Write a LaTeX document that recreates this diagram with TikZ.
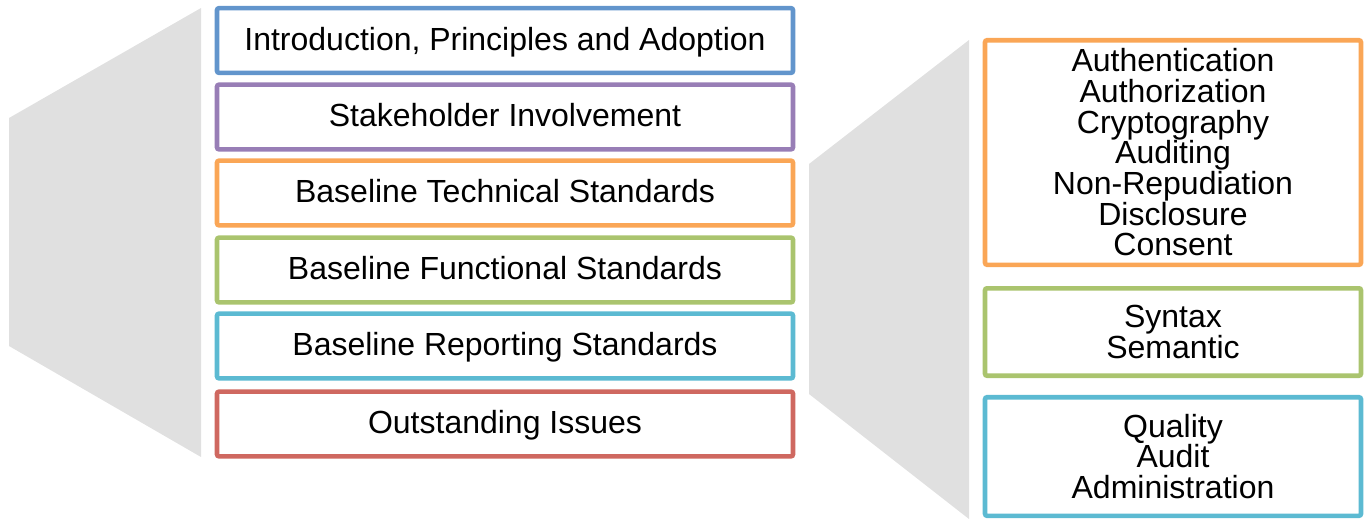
\documentclass[tikz,border=0pt]{standalone}
\usepackage{fontspec}
\setmainfont{Liberation Sans}
\definecolor{cblue}{RGB}{98,149,204}
\definecolor{cpurple}{RGB}{152,126,182}
\definecolor{corange}{RGB}{250,166,86}
\definecolor{cgreen}{RGB}{170,196,110}
\definecolor{ccyan}{RGB}{92,186,210}
\definecolor{cred}{RGB}{207,104,96}
\definecolor{cgray}{RGB}{224,224,224}
\begin{document}
\begin{tikzpicture}[x=0.75pt,y=-0.75pt,
  box/.style={draw, line width=3.4pt, rounded corners=1.5pt, fill=white,
    inner sep=0pt, font=\fontsize{24}{23}\selectfont, align=center},
  lbox/.style={box, minimum width=432pt, minimum height=48.5pt,
    text height=17pt, text depth=2.2pt},
  rbox/.style={box, minimum width=282pt}]
\useasboundingbox (0,0) rectangle (1365,519);
% gray fans
\fill[cgray] (9,118) -- (201,8) -- (201,457) -- (9,346) -- cycle;
\fill[cgray] (809,164) -- (969,40) -- (969,519) -- (809,394) -- cycle;
% left boxes
\node[lbox, draw=cblue]   (b1) at (505,40.5) {Introduction, Principles and Adoption};
\node[lbox, draw=cpurple] (b2) at (505,117)  {Stakeholder Involvement};
\node[lbox, draw=corange] (b3) at (505,193)  {Baseline Technical Standards};
\node[lbox, draw=cgreen]  (b4) at (505,270)  {Baseline Functional Standards};
\node[lbox, draw=ccyan]   (b5) at (505,346)  {Baseline Reporting Standards};
\node[lbox, draw=cred]    (b6) at (505,424)  {Outstanding Issues};
% right boxes
\node[rbox, draw=corange, minimum height=168.4pt] (r1) at (1173,152.5)
  {Authentication\\Authorization\\Cryptography\\Auditing\\Non-Repudiation\\Disclosure\\Consent};
\node[rbox, draw=cgreen, minimum height=65.6pt] (r2) at (1173,332)
  {Syntax\\Semantic};
\node[rbox, draw=ccyan, minimum height=88.9pt] (r3) at (1173,456.5)
  {Quality\\Audit\\Administration};
\end{tikzpicture}
\end{document}
